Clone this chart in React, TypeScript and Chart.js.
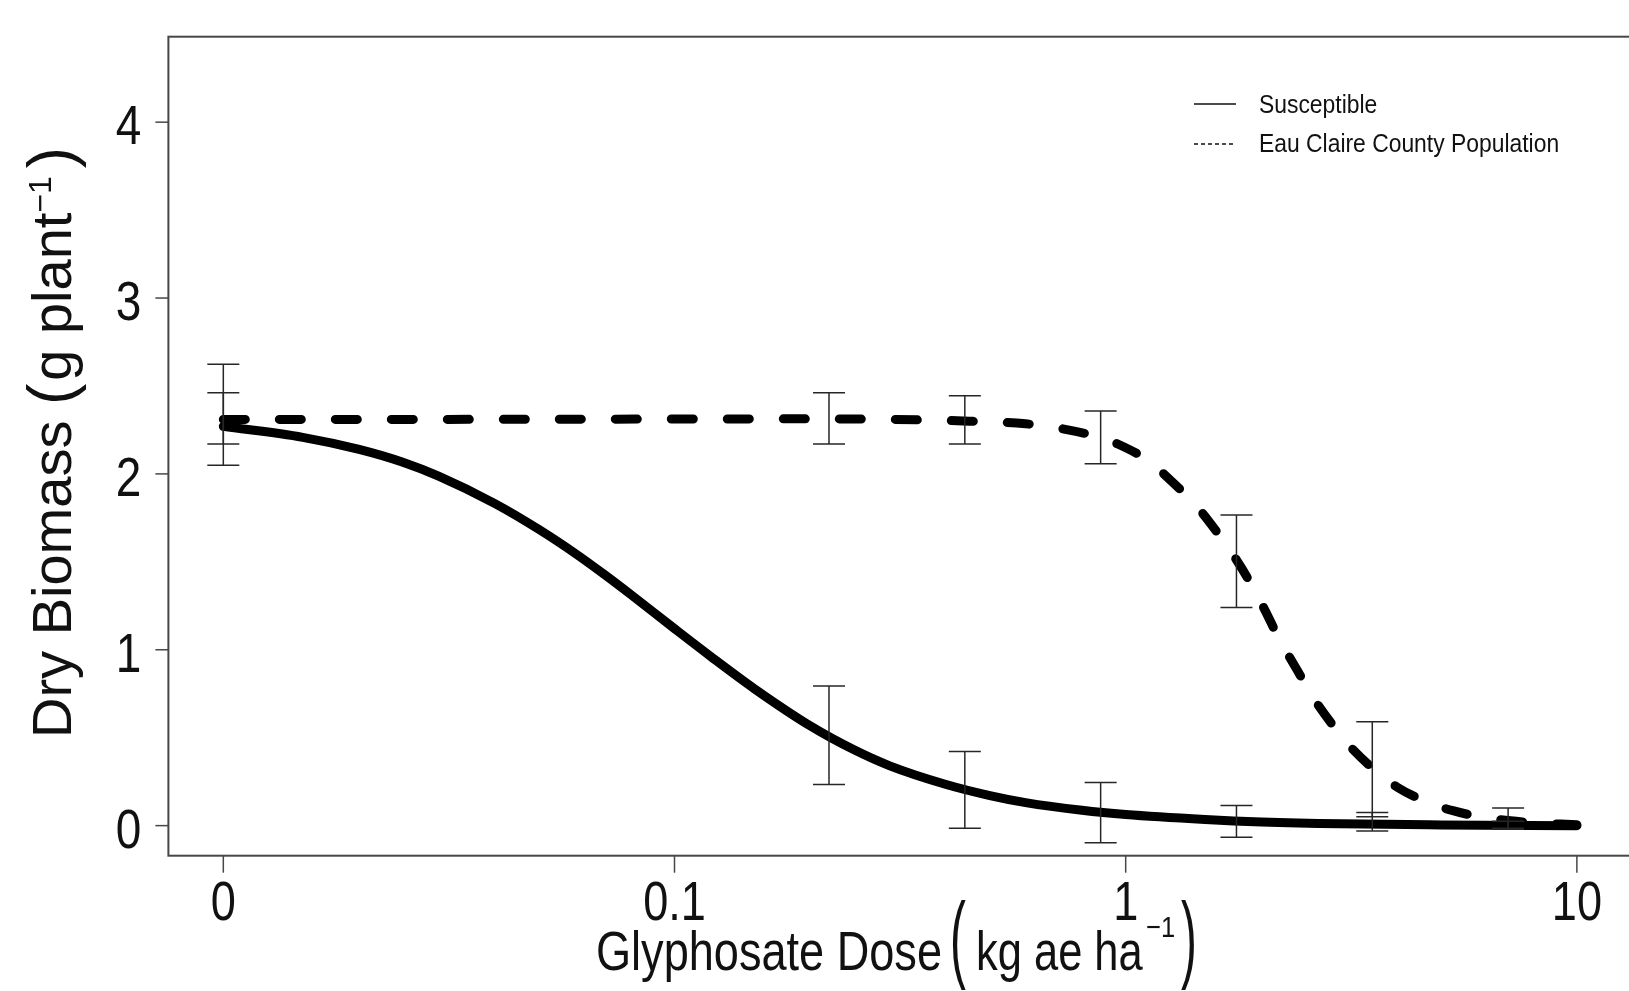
import React, { useEffect, useRef } from "react";
import { Chart, registerables } from "chart.js";

Chart.register(...registerables);

// ---------- data (doses in kg ae/ha; the untreated control is plotted at 0.01 and labelled "0") ----------
const xTickValues = [0.01, 0.1, 1, 10];
const xTickLabels = ["0", "0.1", "1", "10"];
const yTickValues = [0, 1, 2, 3, 4];
const yTickLabels = ["0", "1", "2", "3", "4"];

const seriesNames = ["Susceptible", "Eau Claire County Population"];

// fitted curve, susceptible
const susceptibleCurveDose = [
  0.01, 0.015, 0.02, 0.025, 0.03, 0.04, 0.05, 0.06, 0.07, 0.08, 0.1, 0.12, 0.15, 0.2,
  0.25, 0.3, 0.4, 0.5, 0.6, 0.8, 1, 1.5, 2, 3, 5, 10,
];
const susceptibleCurveBiomass = [
  2.27, 2.208, 2.139, 2.066, 1.987, 1.831, 1.685, 1.551, 1.427, 1.314, 1.12, 0.964, 0.78, 0.567,
  0.431, 0.34, 0.234, 0.171, 0.131, 0.087, 0.063, 0.035, 0.021, 0.01, 0.004, 0.0,
];

// fitted curve, Eau Claire County population
const resistantCurveDose = [
  0.01, 0.03, 0.1, 0.2, 0.3, 0.45, 0.6, 0.73, 0.87, 0.96, 1.13, 1.25, 1.42, 1.54, 1.74,
  1.86, 2.04, 2.18, 2.43, 2.6, 2.9, 3.17, 3.59, 3.99, 4.7, 5.31, 6.26, 7.87, 10,
];
const resistantCurveBiomass = [
  2.31, 2.31, 2.312, 2.313, 2.31, 2.3, 2.285, 2.255, 2.21, 2.17, 2.07, 1.97, 1.83, 1.72, 1.53,
  1.41, 1.22, 1.07, 0.86, 0.73, 0.56, 0.44, 0.31, 0.22, 0.13, 0.085, 0.045, 0.018, 0.005,
];

// observed means with error bars
const barDose = [0.01, 0.22, 0.44, 0.88, 1.76, 3.52, 7.04];
const susceptibleMean = [2.336, 0.514, 0.203, 0.074, 0.024, 0.022, 0.005];
const susceptibleErr = [0.287, 0.28, 0.218, 0.171, 0.09, 0.052, 0.02];
const resistantMean = [2.316, 2.316, 2.307, 2.207, 1.503, 0.321, 0.04];
const resistantErr = [0.146, 0.146, 0.137, 0.15, 0.263, 0.27, 0.06];

// ---------- layout ----------
const CANVAS_W = 1640;
const CANVAS_H = 991;
const AREA = { left: 168.4, top: 36.7, right: 1631.8, bottom: 855.7 };
const FONT = '"Liberation Sans", Arial, Helvetica, sans-serif';

function drawText(
  ctx: CanvasRenderingContext2D,
  s: string,
  x: number,
  y: number,
  size: number,
  kx: number,
  align: CanvasTextAlign = "left",
  ky: number = 1
) {
  ctx.save();
  ctx.font = `${size}px ${FONT}`;
  ctx.textAlign = align;
  ctx.textBaseline = "alphabetic";
  ctx.translate(x, y);
  ctx.scale(kx, ky);
  ctx.fillText(s, 0, 0);
  ctx.restore();
}

function seg(ctx: CanvasRenderingContext2D, x1: number, y1: number, x2: number, y2: number) {
  ctx.beginPath();
  ctx.moveTo(x1, y1);
  ctx.lineTo(x2, y2);
  ctx.stroke();
}

const decorPlugin = {
  id: "decor",
  afterDatasetsDraw(chart: any) {
    const ctx: CanvasRenderingContext2D = chart.ctx;
    const xs = chart.scales.x;
    const ys = chart.scales.y;
    ctx.save();
    ctx.strokeStyle = "#262626";
    ctx.lineWidth = 1.5;
    const bar = (d: number, m: number, e: number) => {
      const px = xs.getPixelForValue(d);
      const top = ys.getPixelForValue(m + e);
      const bot = ys.getPixelForValue(m - e);
      seg(ctx, px, top, px, bot);
      seg(ctx, px - 16, top, px + 16, top);
      seg(ctx, px - 16, bot, px + 16, bot);
    };
    barDose.forEach((d, i) => {
      bar(d, susceptibleMean[i], susceptibleErr[i]);
      bar(d, resistantMean[i], resistantErr[i]);
    });
    ctx.restore();
  },
  afterDraw(chart: any) {
    const ctx: CanvasRenderingContext2D = chart.ctx;
    const a = chart.chartArea;
    const xs = chart.scales.x;
    const ys = chart.scales.y;
    ctx.save();
    // box
    ctx.strokeStyle = "#474747";
    ctx.lineWidth = 2;
    ctx.strokeRect(a.left, a.top, a.right - a.left, a.bottom - a.top);
    // tick marks
    ctx.lineWidth = 1.5;
    yTickValues.forEach((v) => {
      const py = ys.getPixelForValue(v);
      seg(ctx, a.left - 13, py, a.left, py);
    });
    xTickValues.forEach((v) => {
      const px = xs.getPixelForValue(v);
      seg(ctx, px, a.bottom, px, a.bottom + 17);
    });
    // tick labels
    ctx.fillStyle = "#111";
    yTickValues.forEach((v, i) => {
      drawText(ctx, yTickLabels[i], a.left - 27, ys.getPixelForValue(v) + 22, 56, 0.82, "right");
    });
    xTickValues.forEach((v, i) => {
      drawText(ctx, xTickLabels[i], xs.getPixelForValue(v), a.bottom + 64, 55, 0.82, "center");
    });
    // x title
    drawText(ctx, "Glyphosate Dose", 596, 970, 55, 0.82);
    drawText(ctx, "(", 950, 970, 56, 0.85, "left", 1.72);
    drawText(ctx, "kg ae ha", 976, 970, 55, 0.79);
    drawText(ctx, "\u22121", 1146, 937, 30, 0.85);
    drawText(ctx, ")", 1181, 970, 56, 0.85, "left", 1.72);
    // y title (rotated)
    ctx.save();
    ctx.translate(71, 738);
    ctx.rotate(-Math.PI / 2);
    ctx.textAlign = "left";
    ctx.textBaseline = "alphabetic";
    let cx = 0;
    const part = (s: string, size: number, dy: number) => {
      ctx.font = `${size}px ${FONT}`;
      ctx.fillText(s, cx, dy);
      cx += ctx.measureText(s).width;
    };
    part("Dry Biomass ", 56, 0);
    part("(", 64, 2);
    cx += 3;
    part("g plant", 56, 0);
    part("\u22121", 32, -20);
    cx += 8;
    part(")", 64, 2);
    ctx.restore();
    // legend
    ctx.strokeStyle = "#111";
    ctx.lineWidth = 1.5;
    seg(ctx, 1194, 104, 1236, 104);
    ctx.setLineDash([4, 3]);
    seg(ctx, 1194, 144, 1236, 144);
    ctx.setLineDash([]);
    drawText(ctx, seriesNames[0], 1259, 113, 25, 0.915);
    drawText(ctx, seriesNames[1], 1259, 152, 25, 0.915);
    ctx.restore();
  },
};

export default function App() {
  const canvasRef = useRef<HTMLCanvasElement | null>(null);

  useEffect(() => {
    const canvas = canvasRef.current;
    if (!canvas) return;
    const chart = new Chart(canvas, {
      type: "line",
      data: {
        datasets: [
          {
            label: seriesNames[0],
            data: susceptibleCurveDose.map((d, i) => ({ x: d, y: susceptibleCurveBiomass[i] })),
            borderColor: "#000",
            borderWidth: 9,
            pointRadius: 0,
            fill: false,
            cubicInterpolationMode: "monotone",
            borderCapStyle: "round",
            borderJoinStyle: "round",
          },
          {
            label: seriesNames[1],
            data: resistantCurveDose.map((d, i) => ({ x: d, y: resistantCurveBiomass[i] })),
            borderColor: "#000",
            borderWidth: 9,
            borderDash: [22, 34],
            pointRadius: 0,
            fill: false,
            cubicInterpolationMode: "monotone",
            borderCapStyle: "round",
            borderJoinStyle: "round",
          },
        ],
      },
      options: {
        responsive: false,
        maintainAspectRatio: false,
        animation: false,
        devicePixelRatio: 1,
        events: [],
        layout: {
          padding: {
            left: AREA.left,
            top: AREA.top,
            right: CANVAS_W - AREA.right,
            bottom: CANVAS_H - AREA.bottom,
          },
        },
        plugins: {
          legend: { display: false },
          tooltip: { enabled: false },
        },
        scales: {
          x: { type: "logarithmic", display: false, min: 0.007556, max: 13.235 },
          y: { type: "linear", display: false, min: -0.171, max: 4.486 },
        },
      },
      plugins: [decorPlugin],
    } as any);
    return () => chart.destroy();
  }, []);

  return (
    <div
      style={{
        position: "fixed",
        left: 0,
        top: 0,
        width: 1629,
        height: 991,
        overflow: "hidden",
        background: "#fff",
      }}
    >
      <canvas
        ref={canvasRef}
        width={CANVAS_W}
        height={CANVAS_H}
        style={{ display: "block", width: CANVAS_W, height: CANVAS_H }}
      />
    </div>
  );
}
